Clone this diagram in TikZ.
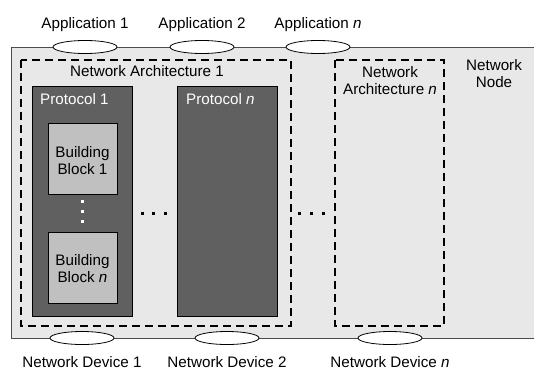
\documentclass[tikz,border=0pt]{standalone}
\usepackage{fontspec}
\setmainfont{Liberation Sans}
\usetikzlibrary{shapes.geometric}
\definecolor{nodegray}{HTML}{E8E8E8}
\definecolor{protogray}{HTML}{606060}
\definecolor{blockgray}{HTML}{C0C0C0}
\tikzset{
  lbl/.style={font=\fontsize{15.2}{17}\selectfont, inner sep=0pt, anchor=base},
  port/.style={ellipse, draw=black, fill=white, line width=0.8pt, minimum width=64pt, minimum height=13pt, inner sep=0pt},
  arch/.style={draw=black, line width=1.4pt, dash pattern=on 8pt off 5pt},
  proto/.style={draw=black, fill=protogray, line width=0.8pt},
  block/.style={draw=black, fill=blockgray, line width=0.8pt},
  wdot/.style={fill=white, minimum size=3pt, inner sep=0pt},
  bdot/.style={fill=black, minimum size=3pt, inner sep=0pt},
}
\begin{document}
\begin{tikzpicture}[x=1pt,y=-1pt]
\useasboundingbox (0,0) rectangle (534,369);
\clip (0,0) rectangle (534,369);
% network node
\draw[fill=nodegray, draw=black!70, line width=0.8pt] (11,47) rectangle (545,338);
\node[lbl, align=center] (nn) at (494,87) {Network\\Node};
% architectures
\draw[arch] (21,60) rectangle (291,326);
\node[lbl] (na1) at (147,76) {Network Architecture 1};
\draw[arch] (335,60) rectangle (444,326);
\node[lbl, align=center] (nan) at (390,94) {Network\\Architecture \textit{n}};
% protocols
\draw[proto] (32,86) rectangle (132,316);
\node[lbl, anchor=base west, text=white] (p1) at (40,104) {Protocol 1};
\draw[proto] (177,86) rectangle (277,316);
\node[lbl, anchor=base west, text=white] (pn) at (186,104) {Protocol \textit{n}};
% building blocks
\draw[block] (48,123) rectangle (117,194);
\node[lbl, align=center] (b1) at (82.5,174) {Building\\Block 1};
\draw[block] (48,232) rectangle (117,303);
\node[lbl, align=center] (bn) at (82.5,282) {Building\\Block \textit{n}};
\foreach \y in {201,211,221} \node[wdot] at (82,\y) {};
\foreach \x in {142,153,165} \node[bdot] at (\x,213) {};
\foreach \x in {299,311,323} \node[bdot] at (\x,213) {};
% applications
\node[port] (a1) at (85,47) {};
\node[port] (a2) at (202,47) {};
\node[port] (an) at (318,47) {};
\node[lbl] (la1) at (85,29) {Application 1};
\node[lbl] (la2) at (202,29) {Application 2};
\node[lbl] (lan) at (318,29) {Application \textit{n}};
% devices
\node[port] (d1) at (82,338) {};
\node[port] (d2) at (227,338) {};
\node[port] (dn) at (390,338) {};
\node[lbl] (ld1) at (82,367) {Network Device 1};
\node[lbl] (ld2) at (227,367) {Network Device 2};
\node[lbl] (ldn) at (390,367) {Network Device \textit{n}};
\end{tikzpicture}
\end{document}
